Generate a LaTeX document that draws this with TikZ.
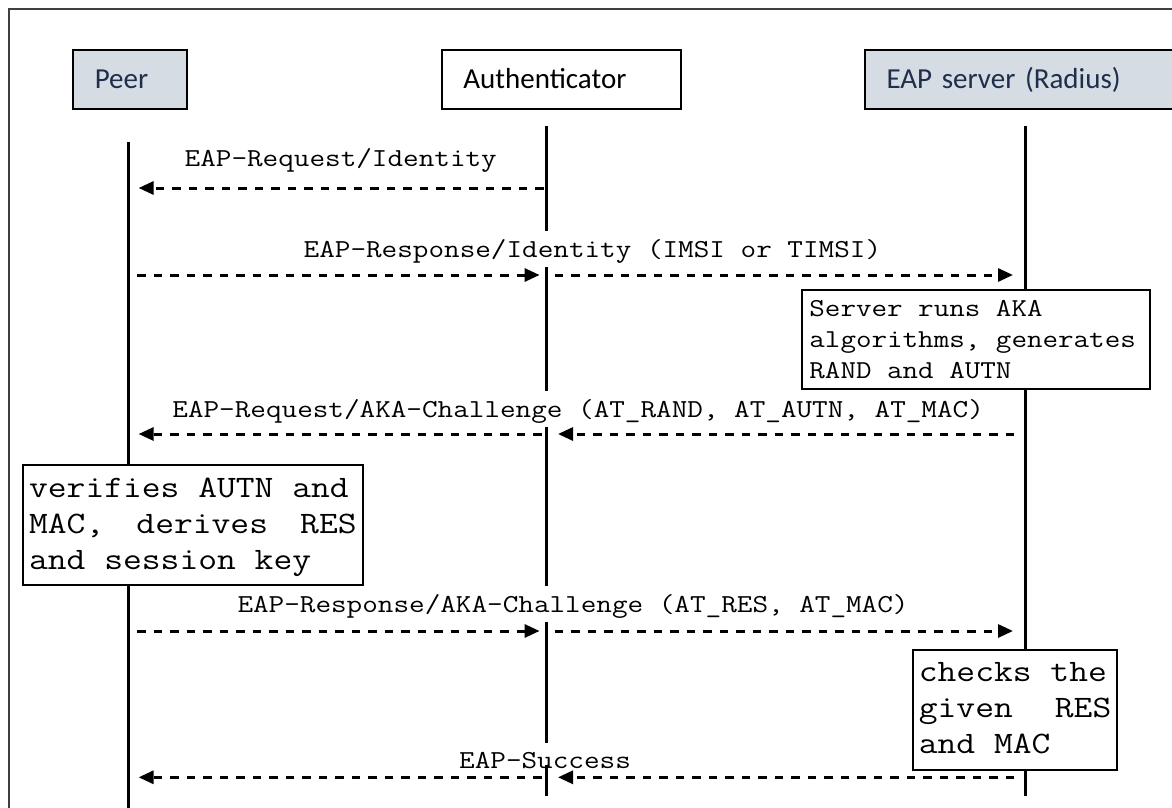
\documentclass[tikz,border=0pt]{standalone}
\usepackage{fontspec}
\newfontfamily\hdrfont{Carlito}
\newfontfamily\monofnt[FakeStretch=1.17]{Latin Modern Mono}
\usetikzlibrary{arrows.meta}
\definecolor{hdrfill}{HTML}{D6DCE4}
\definecolor{hdrtext}{HTML}{1F2E4A}
\begin{document}
\begin{tikzpicture}[x=1pt,y=-1pt,
  hdrbox/.style={draw=black, line width=2pt, rectangle, anchor=north west,
    inner xsep=21.5pt, inner ysep=0pt, align=left,
    text height=38pt, text depth=20.4pt,
    font=\hdrfont\fontsize{29}{34}\selectfont},
  life/.style={line width=3pt},
  msg/.style={line width=3pt, dash pattern=on 8.5pt off 8pt,
    -{Triangle[length=15pt,width=13pt]}},
  lbl/.style={font=\monofnt\fontsize{25.9}{30}\selectfont, inner sep=0pt, anchor=base west},
  note/.style={draw=black, line width=2pt, fill=white, anchor=north west,
    inner ysep=0pt, align=left}
]
\useasboundingbox (0,0) rectangle (1172,808);
\clip (0,0) rectangle (1172,808);
% frame
\draw[line width=1.5pt, black!75] (9.2,830) -- (9.2,9) -- (1190,9);

% headers
\node[hdrbox, fill=hdrfill, text=hdrtext, text width=70.3pt] (peer) at (72.3,49.3) {Peer};
\node[hdrbox, fill=white, text=black, text width=196.1pt] (auth) at (440.9,49.3) {Authenticator};
\node[hdrbox, fill=hdrfill, text=hdrtext, text width=283pt] (srv) at (864,49.3) {EAP server (Radius)};

% lifelines
\draw[life] (128.6,142) -- (128.6,815);
\draw[life] (546.9,126) -- (546.9,231) (546.9,267) -- (546.9,391)
  (546.9,426.7) -- (546.9,586) (546.9,621.7) -- (546.9,743.3)
  (546.9,765) -- (546.9,796);
\draw[life] (1025.8,126) -- (1025.8,796);

% message anchor points on lifelines
\coordinate (p1) at (128.6,188);   \coordinate (a1) at (546.9,188);
\coordinate (p2) at (128.6,275);   \coordinate (a2) at (546.9,275);   \coordinate (s2) at (1025.8,275);
\coordinate (p3) at (128.6,434);   \coordinate (a3) at (546.9,434);   \coordinate (s3) at (1025.8,434);
\coordinate (p4) at (128.6,631);   \coordinate (a4) at (546.9,631);   \coordinate (s4) at (1025.8,631);
\coordinate (p5) at (128.6,777.3); \coordinate (a5) at (546.9,777.3); \coordinate (s5) at (1025.8,777.3);

% messages
\draw[msg, shorten <=3pt, shorten >=10pt] (a1) -- (p1);
\draw[msg, shorten <=8.4pt, shorten >=7.3pt] (p2) -- (a2);
\draw[msg, shorten <=8pt, shorten >=12.8pt] (a2) -- (s2);
\draw[msg, shorten <=11.8pt, shorten >=11.1pt] (s3) -- (a3);
\draw[msg, shorten <=5.4pt, shorten >=10pt] (a3) -- (p3);
\draw[msg, shorten <=8.4pt, shorten >=7.3pt] (p4) -- (a4);
\draw[msg, shorten <=8pt, shorten >=12.8pt] (a4) -- (s4);
\draw[msg, shorten <=11.8pt, shorten >=11.1pt] (s5) -- (a5);
\draw[msg, shorten <=5.4pt, shorten >=10pt] (a5) -- (p5);

% labels
\node[lbl] (l1) at (184.5,166) {EAP-Request/Identity};
\node[lbl] (l2) at (303.5,257.7) {EAP-Response/Identity (IMSI or TIMSI)};
\node[lbl] (l3) at (172.2,417.7) {EAP-Request/AKA-Challenge (AT\_RAND, AT\_AUTN, AT\_MAC)};
\node[lbl] (l4) at (237.3,612.7) {EAP-Response/AKA-Challenge (AT\_RES, AT\_MAC)};
\node[lbl] (l5) at (459,768.3) {EAP-Success};

% notes
\node[note, inner xsep=7.6pt, text width=333pt, text height=26pt, text depth=72.7pt,
  font=\monofnt\fontsize{25.8}{31}\selectfont] (srvnote) at (800.8,289)
  {\spaceskip=0pt\xspaceskip=0pt Server runs AKA\\algorithms, generates\\RAND and AUTN};
\node[note, inner xsep=6.35pt, text width=327.5pt, text height=32.4pt, text depth=87.6pt,
  font=\monofnt\fontsize{31.2}{36}\selectfont] (peernote) at (21.8,464.3)
  {\spaceskip=0pt\xspaceskip=0pt verifies AUTN and\\MAC,\hfill derives\hfill RES\\and session key};
\node[note, inner xsep=6.05pt, text width=192.5pt, text height=31.4pt, text depth=88.3pt,
  font=\monofnt\fontsize{31.2}{36}\selectfont] (chknote) at (911.8,649.3)
  {\spaceskip=0pt\xspaceskip=0pt checks the\\given\hfill RES\\and MAC};
\end{tikzpicture}
\end{document}
